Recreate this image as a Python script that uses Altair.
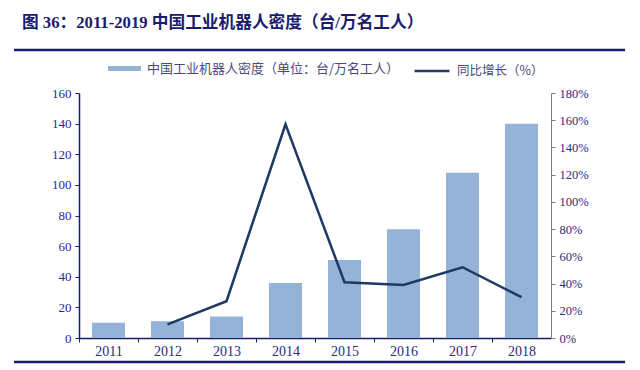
import altair as alt
import pandas as pd

years = ["2011", "2012", "2013", "2014", "2015", "2016", "2017", "2018"]
density = [10, 11, 14, 36, 51, 71, 108, 140]
growth_years = ["2012", "2013", "2014", "2015", "2016", "2017", "2018"]
growth = [10, 27, 157, 41, 39, 52, 30]
left_ticks = [0, 20, 40, 60, 80, 100, 120, 140, 160]
right_ticks = [0, 20, 40, 60, 80, 100, 120, 140, 160, 180]
name_bar = "中国工业机器人密度（单位：台/万名工人）"
name_line = "同比增长（%）"
title_text = "图 36：2011-2019 中国工业机器人密度（台/万名工人）"

BAR = "#95b3d7"
LINE = "#1f3864"
NAVY = "#1b1b6e"
LAB = "#2b2b7a"

df_bar = pd.DataFrame({"year": years, "density": density, "series": [name_bar] * len(years)})
df_line = pd.DataFrame({"year": growth_years, "growth": growth, "series": [name_line] * len(growth_years)})

num_font = "Liberation Serif"

xenc = alt.X(
    "year:N",
    scale=alt.Scale(domain=years, paddingInner=0.44, paddingOuter=0.22),
    axis=alt.Axis(
        title=None, labelAngle=0, labelFont=num_font, labelFontSize=14, labelColor=LAB,
        domainColor=NAVY, domainWidth=1.5, tickColor=NAVY, tickSize=4,
        tickOffset=-29.5, labelOffset=29.5, labelPadding=2, grid=False,
    ),
)

bars = alt.Chart(df_bar).mark_bar().encode(
    x=xenc,
    y=alt.Y(
        "density:Q",
        scale=alt.Scale(domain=[0, 160], nice=False),
        axis=alt.Axis(
            title=None, values=left_ticks, labelFont=num_font, labelFontSize=13, labelColor=LAB,
            domainColor=NAVY, domainWidth=1.5, tickColor=NAVY, tickSize=4, grid=False, labelPadding=4,
        ),
    ),
    fill=alt.Fill(
        "series:N",
        scale=alt.Scale(domain=[name_bar], range=[BAR]),
        legend=alt.Legend(
            title=None, orient="none", legendX=29, legendY=-41,
            symbolType="M-1,-0.15L1,-0.15L1,0.15L-1,0.15Z", symbolSize=1089,
            symbolStrokeWidth=0, labelFont="Noto Sans CJK SC", labelFontSize=13,
            labelColor="#4a4a7a", padding=0, labelOffset=6, labelLimit=400,
        ),
    ),
)

line = alt.Chart(df_line).mark_line(strokeWidth=2.5).encode(
    x=alt.X("year:N", scale=alt.Scale(domain=years)),
    y=alt.Y(
        "growth:Q",
        scale=alt.Scale(domain=[0, 180], nice=False),
        axis=alt.Axis(
            title=None, orient="right", values=right_ticks, labelExpr="datum.value + '%'",
            labelFont=num_font, labelFontSize=12.5, labelColor=LAB,
            domainColor="#808080", tickColor="#808080", tickSize=4, grid=False, labelPadding=4,
        ),
    ),
    stroke=alt.Stroke(
        "series:N",
        scale=alt.Scale(domain=[name_line], range=[LINE]),
        legend=alt.Legend(
            title=None, orient="none", legendX=334, legendY=-41,
            symbolType="stroke", symbolSize=1225, symbolStrokeWidth=2.5,
            labelFont="Noto Sans CJK SC", labelFontSize=12.5,
            labelColor="#4a4a7a", padding=0, labelOffset=6, labelLimit=400,
        ),
    ),
)

frame_df = pd.DataFrame({"k": [0]})
top_rule = alt.Chart(frame_df).mark_rule(color=NAVY, strokeWidth=2.5).encode(
    x=alt.value(-65), x2=alt.value(546), y=alt.value(-43)
)
bottom_rule = alt.Chart(frame_df).mark_rule(color=NAVY, strokeWidth=2.5).encode(
    x=alt.value(-65), x2=alt.value(546), y=alt.value(269)
)

chart = (
    alt.layer(bars, line, top_rule, bottom_rule)
    .resolve_scale(y="independent")
    .properties(
        width=472,
        height=245,
        autosize=alt.AutoSizeParams(type="none"),
        padding={"left": 71, "top": 85, "right": 81, "bottom": 32},
        title=alt.TitleParams(
            title_text, anchor="start", frame="group", offset=17, dx=-57,
            font="Liberation Serif, Noto Sans CJK SC", fontSize=16.7, fontWeight="bold", color=NAVY,
        ),
    )
    .configure_view(stroke=None)
)

chart.save("out.html", embed_options={"renderer": "svg", "actions": False})
